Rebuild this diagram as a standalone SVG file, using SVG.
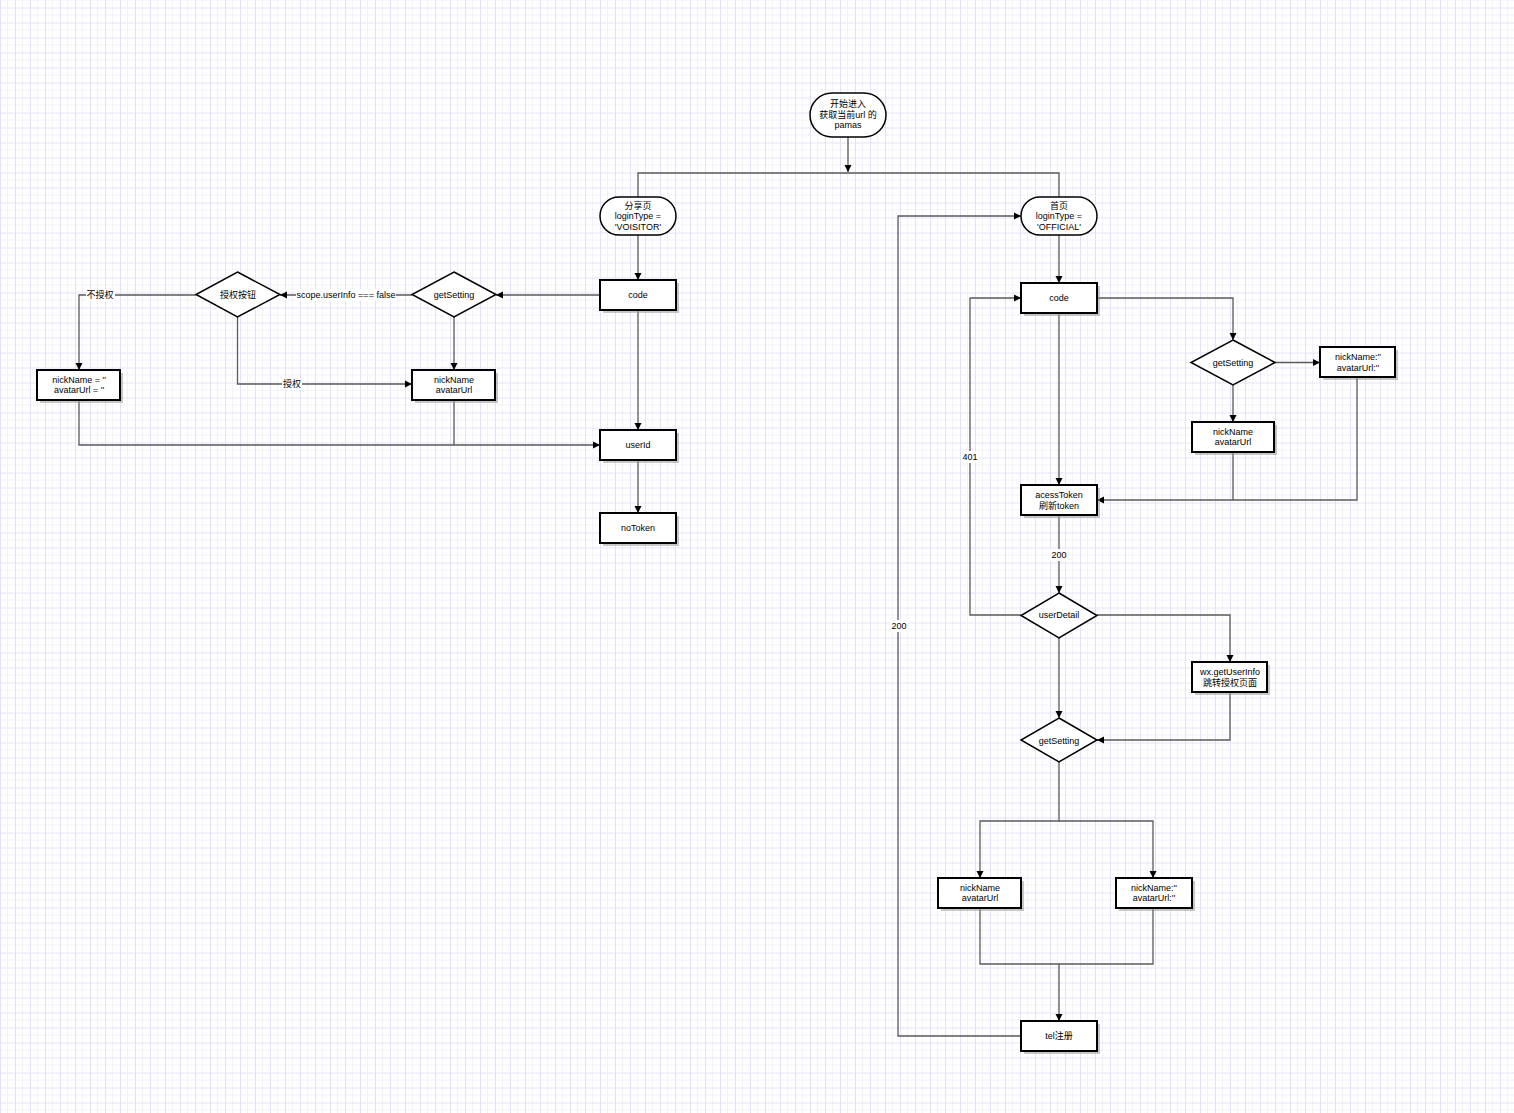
<svg xmlns="http://www.w3.org/2000/svg" width="1514" height="1113" viewBox="0 0 1514 1113">
<style>
text{font-family:"Liberation Sans",Arial,"Noto Sans CJK SC",sans-serif;font-size:9px;fill:#000;text-anchor:middle;dominant-baseline:central}
.box{fill:#fff;stroke:#000;stroke-width:2}
.sh{fill:#999;opacity:0.55}
.dia{fill:#fff;stroke:#000;stroke-width:1.5}
.term{fill:#fff;stroke:#000;stroke-width:1.5}
.c{fill:none;stroke:#5a5a5a;stroke-width:1.3}
.a{marker-end:url(#arr)}
.lbg{fill:#fff}
</style>
<defs>
<pattern id="grid" width="15" height="15" patternUnits="userSpaceOnUse" x="0" y="7.5">
<rect width="15" height="15" fill="#fff"/>
<path d="M7.5,0V15M0,7.5H15" stroke="#f2f2fb" stroke-width="1"/>
<path d="M0.5,0V15M0,0.5H15" stroke="#e2e2f6" stroke-width="1"/>
</pattern>
<marker id="arr" markerWidth="8" markerHeight="8" refX="7" refY="4" orient="auto" markerUnits="userSpaceOnUse">
<path d="M0,0.5L7,4L0,7.5z" fill="#000"/>
</marker>
</defs>
<rect width="1514" height="1113" fill="url(#grid)"/>

<g id="connectors">
<path class="c a" d="M848,137V172"/>
<path class="c" d="M638,197V173H1059V197"/>
<path class="c a" d="M638,235V280"/>
<path class="c a" d="M600,295H496"/>
<path class="c a" d="M412,295H280"/>
<path class="c a" d="M196,295H79V370"/>
<path class="c a" d="M237.5,317V384H412"/>
<path class="c a" d="M454,317V370"/>
<path class="c a" d="M79,400V445H600"/>
<path class="c" d="M454,400V445"/>
<path class="c a" d="M638,310V430"/>
<path class="c a" d="M638,460V513"/>
<path class="c a" d="M1059,235V283"/>
<path class="c a" d="M1097,298H1233V340"/>
<path class="c a" d="M1275,362.5H1320"/>
<path class="c a" d="M1233,385V422"/>
<path class="c a" d="M1059,313V485"/>
<path class="c a" d="M1233,452V500H1097"/>
<path class="c" d="M1357,377V500H1233"/>
<path class="c a" d="M1059,515V593"/>
<path class="c a" d="M1021,615H970V298H1021"/>
<path class="c a" d="M1097,615H1230V662"/>
<path class="c a" d="M1059,638V718"/>
<path class="c a" d="M1230,692V740H1097"/>
<path class="c a" d="M1059,762V821H980V878"/>
<path class="c a" d="M1059,821H1153V878"/>
<path class="c a" d="M980,908V964H1059V1021"/>
<path class="c" d="M1153,908V964H1059"/>
<path class="c a" d="M1021,1036H898V216H1021"/>
<g id="labels">
<rect class="lbg" x="296" y="289" width="100" height="12"/>
<text x="346" y="295">scope.userInfo === false</text>
<rect class="lbg" x="86" y="289" width="29" height="12"/>
<text x="100" y="295">不授权</text>
<rect class="lbg" x="282" y="378" width="20" height="12"/>
<text x="292" y="384">授权</text>
<rect class="lbg" x="961" y="451" width="18" height="12"/>
<text x="970" y="457">401</text>
<rect class="lbg" x="1050" y="549" width="18" height="12"/>
<text x="1059" y="555">200</text>
<rect class="lbg" x="890" y="620" width="18" height="12"/>
<text x="899" y="626">200</text>
</g>
</g>

<g id="start">
<rect class="term" x="810" y="93" width="76" height="44" rx="22" ry="22"/>
<text x="848" y="104">开始进入</text>
<text x="848" y="115">获取当前url 的</text>
<text x="848" y="125">pamas</text>
</g>
<g id="share">
<rect class="term" x="600" y="197" width="76" height="38" rx="19" ry="19"/>
<text x="638" y="205.5">分享页</text>
<text x="638" y="216">loginType =</text>
<text x="638" y="226.5">'VOISITOR'</text>
</g>
<g id="home">
<rect class="term" x="1021" y="197" width="76" height="38" rx="19" ry="19"/>
<text x="1059" y="205.5">首页</text>
<text x="1059" y="216">loginType =</text>
<text x="1059" y="226.5">'OFFICIAL'</text>
</g>

<g id="code-left">
<rect class="sh" x="603" y="283" width="76" height="30"/>
<rect class="box" x="600" y="280" width="76" height="30"/>
<text x="638" y="295">code</text>
</g>
<g id="getSetting-left">
<polygon class="dia" points="454,272 496,294.5 454,317 412,294.5"/>
<text x="454" y="295">getSetting</text>
</g>
<g id="auth-button">
<polygon class="dia" points="237.5,272 280,294.5 237.5,317 196,294.5"/>
<text x="238" y="295">授权按钮</text>
</g>
<g id="nick-empty-left">
<rect class="sh" x="40" y="373" width="83" height="30"/>
<rect class="box" x="37" y="370" width="83" height="30"/>
<text x="79" y="379.5">nickName = ''</text>
<text x="79" y="390">avatarUrl = ''</text>
</g>
<g id="nick-left">
<rect class="sh" x="415" y="373" width="83" height="30"/>
<rect class="box" x="412" y="370" width="83" height="30"/>
<text x="454" y="379.5">nickName</text>
<text x="454" y="390">avatarUrl</text>
</g>
<g id="userId">
<rect class="sh" x="603" y="433" width="76" height="30"/>
<rect class="box" x="600" y="430" width="76" height="30"/>
<text x="638" y="445">userId</text>
</g>
<g id="noToken">
<rect class="sh" x="603" y="516" width="76" height="30"/>
<rect class="box" x="600" y="513" width="76" height="30"/>
<text x="638" y="528">noToken</text>
</g>

<g id="code-right">
<rect class="sh" x="1024" y="286" width="76" height="30"/>
<rect class="box" x="1021" y="283" width="76" height="30"/>
<text x="1059" y="298">code</text>
</g>
<g id="getSetting-right">
<polygon class="dia" points="1233,340 1275,362.5 1233,385 1191,362.5"/>
<text x="1233" y="362.5">getSetting</text>
</g>
<g id="nick-empty-right">
<rect class="sh" x="1323" y="350" width="75" height="30"/>
<rect class="box" x="1320" y="347" width="75" height="30"/>
<text x="1358" y="357">nickName:''</text>
<text x="1358" y="367.5">avatarUrl:''</text>
</g>
<g id="nick-right">
<rect class="sh" x="1195" y="425" width="82" height="30"/>
<rect class="box" x="1192" y="422" width="82" height="30"/>
<text x="1233" y="431.5">nickName</text>
<text x="1233" y="442">avatarUrl</text>
</g>
<g id="acessToken">
<rect class="sh" x="1024" y="488" width="76" height="30"/>
<rect class="box" x="1021" y="485" width="76" height="30"/>
<text x="1059" y="494.5">acessToken</text>
<text x="1059" y="505.5">刷新token</text>
</g>
<g id="userDetail">
<polygon class="dia" points="1059,593 1097,615.5 1059,638 1021,615.5"/>
<text x="1059" y="615">userDetail</text>
</g>
<g id="wx">
<rect class="sh" x="1195" y="665" width="75" height="30"/>
<rect class="box" x="1192" y="662" width="75" height="30"/>
<text x="1230" y="672">wx.getUserInfo</text>
<text x="1230" y="682.5">跳转授权页面</text>
</g>
<g id="getSetting-2">
<polygon class="dia" points="1059,718 1097,740 1059,762 1021,740"/>
<text x="1059" y="740.5">getSetting</text>
</g>
<g id="nick-bottom-left">
<rect class="sh" x="941" y="881" width="83" height="30"/>
<rect class="box" x="938" y="878" width="83" height="30"/>
<text x="980" y="887.5">nickName</text>
<text x="980" y="898">avatarUrl</text>
</g>
<g id="nick-bottom-right">
<rect class="sh" x="1119" y="881" width="76" height="30"/>
<rect class="box" x="1116" y="878" width="76" height="30"/>
<text x="1154" y="887.5">nickName:''</text>
<text x="1154" y="898">avatarUrl:''</text>
</g>
<g id="tel">
<rect class="sh" x="1024" y="1024" width="76" height="30"/>
<rect class="box" x="1021" y="1021" width="76" height="30"/>
<text x="1059" y="1036">tel注册</text>
</g>
</svg>
